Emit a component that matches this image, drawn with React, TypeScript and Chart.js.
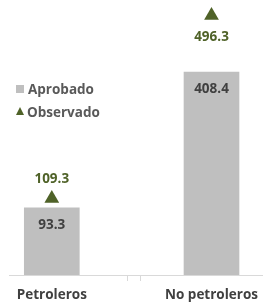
import React, { useEffect, useRef } from "react";
import { Chart, registerables } from "chart.js";

Chart.register(...registerables);

const categories = ["Petroleros", "No petroleros"];
const aprobado = [93.3, 408.4];
const observado = [109.3, 496.3];
const observadoLabelPos = ["above", "below"];

const FONT = "'Open Sans', Lato, sans-serif";
const WEIGHT = 700;
const SIZE = 13.5;
const GREEN = "#4F6228";
const GRAY = "#BFBFBF";
const TEXT = "#404040";

const labelsPlugin = {
  id: "valueLabels",
  afterDatasetsDraw(chart: any) {
    const ctx = chart.ctx;
    ctx.save();
    ctx.textAlign = "center";
    ctx.textBaseline = "middle";
    ctx.font = `${WEIGHT} ${SIZE}px ${FONT}`;
    const barMeta = chart.getDatasetMeta(0);
    barMeta.data.forEach((el: any, i: number) => {
      ctx.fillStyle = TEXT;
      ctx.fillText(aprobado[i].toFixed(1), el.x, el.y + 17);
    });
    const ptMeta = chart.getDatasetMeta(1);
    ptMeta.data.forEach((el: any, i: number) => {
      ctx.fillStyle = GREEN;
      const dy = observadoLabelPos[i] === "above" ? -19 : 21.5;
      ctx.fillText(observado[i].toFixed(1), el.x, el.y + dy);
    });
    ctx.restore();
  },
};

export default function App() {
  const ref = useRef<HTMLCanvasElement>(null);
  useEffect(() => {
    if (!ref.current) return;
    const yMin = -62.9;
    const chart = new Chart(ref.current, {
      type: "bar",
      data: {
        datasets: [
          {
            type: "bar",
            label: "Aprobado",
            data: aprobado.map((v, i) => ({ x: i, y: v })),
            backgroundColor: GRAY,
            barThickness: 55,
            base: yMin,
            yAxisID: "y",
            order: 2,
          } as any,
          {
            type: "line",
            label: "Observado",
            data: observado.map((v, i) => ({ x: i, y: v })),
            showLine: false,
            pointStyle: "triangle",
            pointRadius: 8.5,
            pointHoverRadius: 8.5,
            backgroundColor: GREEN,
            borderColor: GREEN,
            borderWidth: 0,
            yAxisID: "y2",
            order: 1,
          } as any,
        ],
      },
      options: {
        responsive: false,
        animation: false,
        layout: { autoPadding: false, padding: { left: 9, right: 0, top: 0, bottom: 0 } },
        plugins: {
          legend: { display: false },
          tooltip: { enabled: false },
          title: { display: false },
        },
        scales: {
          x: {
            type: "linear",
            offset: false,
            min: -0.268,
            max: 1.321,
            afterBuildTicks: (scale: any) => {
              scale.ticks = [{ value: 0 }, { value: 0.4734 }, { value: 0.5544 }, { value: 1 }];
            },
            afterFit: (scale: any) => {
              scale.height = 27;
            },
            ticks: {
              autoSkip: false,
              maxRotation: 0,
              padding: 6,
              color: TEXT,
              font: { family: FONT, size: SIZE, weight: WEIGHT },
              callback: (v: any) => {
                const n = Number(v);
                if (n === 0) return categories[0];
                if (n === 1) return categories[1];
                return "";
              },
            },
            grid: {
              offset: false,
              drawOnChartArea: false,
              tickLength: 6,
              color: (c: any) => (c.tick && (c.tick.value === 0 || c.tick.value === 1) ? "rgba(0,0,0,0)" : "#D9D9D9"),
            },
            border: { color: "#D9D9D9" },
          },
          y: { display: false, min: yMin, max: 575.6 },
          y2: { display: false, min: -52.4, max: 529.1 },
        },
      } as any,
      plugins: [labelsPlugin],
    });
    return () => chart.destroy();
  }, []);

  const legendText: React.CSSProperties = {
    fontFamily: FONT,
    fontWeight: WEIGHT,
    fontSize: SIZE,
    color: "#595959",
    lineHeight: "20px",
    whiteSpace: "nowrap",
  };

  return (
    <div style={{ position: "absolute", left: 0, top: 0, width: 264, height: 302, background: "#fff", overflow: "hidden" }}>
      <canvas ref={ref} width={264} height={302} style={{ display: "block" }} />
      <div style={{ position: "absolute", left: 15, top: 77 }}>
        <div style={{ display: "flex", alignItems: "center", height: 23 }}>
          <span style={{ display: "inline-block", width: 8, height: 8, background: GRAY, marginLeft: 1, marginRight: 4, position: "relative", top: 0 }} />
          <span style={legendText}>Aprobado</span>
        </div>
        <div style={{ display: "flex", alignItems: "center", height: 23 }}>
          <span
            style={{
              display: "inline-block",
              width: 0,
              height: 0,
              borderLeft: "4.5px solid transparent",
              borderRight: "4.5px solid transparent",
              borderBottom: `8px solid ${GREEN}`,
              marginLeft: 0.5,
              marginRight: 3.5,
              position: "relative",
              top: -1,
            }}
          />
          <span style={legendText}>Observado</span>
        </div>
      </div>
    </div>
  );
}
